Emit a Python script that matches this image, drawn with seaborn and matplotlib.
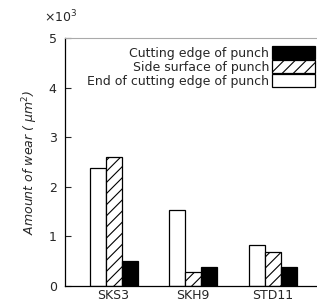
import matplotlib
matplotlib.use("Agg")
import matplotlib.pyplot as plt
import seaborn as sns
import pandas as pd
from matplotlib.patches import Patch

materials = ["SKS3", "SKH9", "STD11"]
series = ["End of cutting edge of punch", "Side surface of punch", "Cutting edge of punch"]
end_edge = [2.38, 1.53, 0.83]
side_surface = [2.60, 0.28, 0.68]
cutting_edge = [0.50, 0.38, 0.38]

rows = []
for name, vals in zip(series, [end_edge, side_surface, cutting_edge]):
    for m, v in zip(materials, vals):
        rows.append({"material": m, "series": name, "wear": v})
df = pd.DataFrame(rows)

sns.set_theme(style="ticks")
plt.rcParams['font.family'] = ['DejaVu Sans']
plt.rcParams['hatch.linewidth'] = 0.8

fig = plt.figure(figsize=(3.17, 3.02), dpi=100)
ax = fig.add_axes([0.205, 0.053, 0.792, 0.821])

sns.barplot(data=df, x="material", y="wear", hue="series", hue_order=series,
            order=materials, width=0.6, ax=ax, legend=False, errorbar=None,
            saturation=1)

styles = {series[0]: ("white", ""), series[1]: ("white", "///"), series[2]: ("black", "")}
for cont, name in zip(ax.containers, series):
    fc, h = styles[name]
    for bar in cont:
        bar.set_facecolor(fc)
        bar.set_edgecolor("black")
        bar.set_linewidth(0.9)
        bar.set_hatch(h)

ax.set_xlim(-0.61, 2.54)
ax.set_ylim(0, 5)
ax.set_yticks([0, 1, 2, 3, 4, 5])
ax.set_yticklabels(["0", "1", "2", "3", "4", "5"], fontsize=9)
ax.tick_params(axis="y", direction="in", length=4, width=0.8, pad=6)
ax.tick_params(axis="x", length=0, labelsize=9, pad=2)
ax.set_xlabel("")
ax.set_ylabel("Amount of wear ( $\\mu$m$^2$)", fontsize=9, style="italic", labelpad=6)

for s in ["left", "bottom"]:
    ax.spines[s].set_color("black")
    ax.spines[s].set_linewidth(0.9)
ax.spines["top"].set_color("#aaaaaa")
ax.spines["top"].set_linewidth(0.8)
ax.spines["right"].set_visible(False)

handles = []
for name in reversed(series):
    fc, h = styles[name]
    handles.append(Patch(facecolor=fc, edgecolor="black", hatch=h, linewidth=0.9, label=name))
ax.legend(handles=handles, loc="upper right", bbox_to_anchor=(1.0, 0.975),
          markerfirst=False, frameon=False,
          fontsize=9, handlelength=3.4, handleheight=1.3, labelspacing=0.0,
          handletextpad=0.25, borderaxespad=0.0, borderpad=0.1)

fig.text(0.14, 0.945, "×10$^3$", fontsize=9, ha="left", va="center")

fig.savefig("out.png", dpi=100)
